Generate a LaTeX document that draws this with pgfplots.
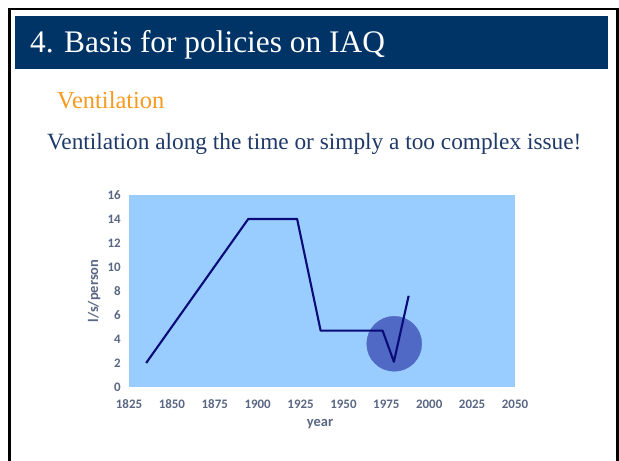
\documentclass[border=0pt]{standalone}
\usepackage{pgfplots}
\pgfplotsset{compat=1.18}
\usepackage{fontspec}
\setmainfont{Liberation Serif}
\newfontfamily\carlito{Carlito}
\definecolor{titlebar}{HTML}{003366}
\definecolor{orangetxt}{HTML}{F79A1E}
\definecolor{subtxt}{HTML}{1F3A68}
\definecolor{plotbg}{HTML}{99CCFF}
\definecolor{linecol}{HTML}{0A0A78}
\definecolor{circcol}{HTML}{4F69C4}
\definecolor{ticktxt}{HTML}{5A6783}
\begin{document}
\begin{tikzpicture}[x=1bp,y=1bp]
\useasboundingbox (0,0) rectangle (619,461);
\fill[white] (0,0) rectangle (619,461);
\draw[line width=2.6bp] (9.5,-2) -- (9.5,451.8) -- (617.5,451.8) -- (617.5,-2);
\fill[titlebar] (15,445) rectangle (608,392);
\node[anchor=base west, inner sep=0, text=white, font=\fontsize{31.5}{36}\selectfont] at (30,408) {4. Basis for policies on IAQ};
\node[anchor=base west, inner sep=0, text=orangetxt, font=\fontsize{24.5}{28}\selectfont] at (57,352) {Ventilation};
\node[anchor=base west, inner sep=0, text=subtxt, font=\fontsize{23.4}{28}\selectfont] at (47,311) {Ventilation along the time or simply a too complex issue!};
\begin{axis}[
  at={(129bp,74bp)}, anchor=south west,
  width=386bp, height=192bp, scale only axis,
  clip mode=individual,
  xmin=1825, xmax=2050, ymin=0, ymax=16,
  xtick={1825,1850,...,2050}, ytick={0,2,...,16},
  axis line style={draw=none},
  major tick length=0pt,
  axis background/.style={fill=plotbg},
  /pgf/number format/assume math mode=true,
  /pgf/number format/1000 sep={},
  tick label style={font=\carlito\bfseries\fontsize{13}{14}\selectfont, text=ticktxt},
  xticklabel style={anchor=center, yshift=-17bp},
  yticklabel style={anchor=east, inner sep=0pt, xshift=-8bp},
  xlabel={year}, ylabel={l/s/person},
  label style={font=\carlito\bfseries\fontsize{14.5}{15}\selectfont, text=ticktxt},
  xlabel style={at={(axis description cs:0.495,-0.195)}, anchor=center},
  ylabel style={at={(axis description cs:-0.09,0.5)}, anchor=center},
]
\addplot[circcol, only marks, mark=*, mark size=27.5bp, mark options={draw=none, fill=circcol}] coordinates {(1979.6,3.6)};
\addplot[linecol, line width=2.1bp, mark=none, line join=round] coordinates {
(1835,2.0) (1894.5,14.0) (1923,14.0) (1936.7,4.7) (1972.8,4.7) (1979.4,2.1) (1988,7.6)
};
\end{axis}
\end{tikzpicture}
\end{document}
